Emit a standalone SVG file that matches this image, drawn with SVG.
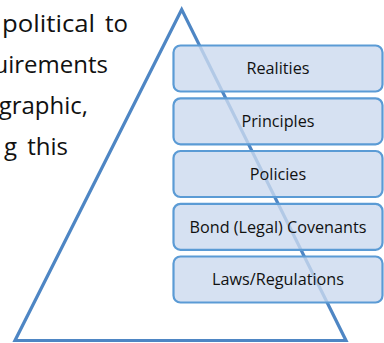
<svg xmlns="http://www.w3.org/2000/svg" width="384" height="343" viewBox="0 0 384 343">
  <style>
    .body { font-family: "Open Sans", "Noto Sans", sans-serif; font-size: 24px; fill: #111; }
    .tier rect { fill: #CCDAEF; fill-opacity: 0.8; stroke: #5B9BD5; stroke-width: 2.2; }
    .tier text { font-family: "Open Sans", "Noto Sans", sans-serif; font-size: 16.2px; fill: #111; text-anchor: middle; }
  </style>
  <rect width="384" height="343" fill="#ffffff"/>

  <!-- body text running in from the left edge, wrapped along the pyramid side -->
  <g id="body-text" class="body">
    <text x="2" y="32" textLength="93" lengthAdjust="spacingAndGlyphs">political</text>
    <text x="128" y="32" text-anchor="end">to</text>
    <text x="108" y="73" text-anchor="end">uirements</text>
    <text x="88" y="114" text-anchor="end">graphic,</text>
    <text x="17" y="155" text-anchor="end">g</text>
    <text x="68" y="155" text-anchor="end">this</text>
  </g>

  <!-- pyramid outline -->
  <g id="pyramid">
    <polygon points="181.7,9.5 15,340.5 346,340.5" fill="none" stroke="#4E86C4" stroke-width="3.2" stroke-linejoin="miter"/>
  </g>

  <!-- stacked tiers -->
  <g id="realities" class="tier">
    <rect x="173.5" y="45.5" width="209" height="46" rx="7"/>
    <text x="278" y="74.3">Realities</text>
  </g>
  <g id="principles" class="tier">
    <rect x="173.5" y="98.3" width="209" height="46" rx="7"/>
    <text x="278" y="127.1">Principles</text>
  </g>
  <g id="policies" class="tier">
    <rect x="173.5" y="151" width="209" height="46" rx="7"/>
    <text x="278" y="179.8">Policies</text>
  </g>
  <g id="bond-covenants" class="tier">
    <rect x="173.5" y="203.8" width="209" height="46" rx="7"/>
    <text x="278" y="232.6">Bond (Legal) Covenants</text>
  </g>
  <g id="laws-regulations" class="tier">
    <rect x="173.5" y="256.5" width="209" height="46" rx="7"/>
    <text x="278" y="285.3">Laws/Regulations</text>
  </g>
</svg>
